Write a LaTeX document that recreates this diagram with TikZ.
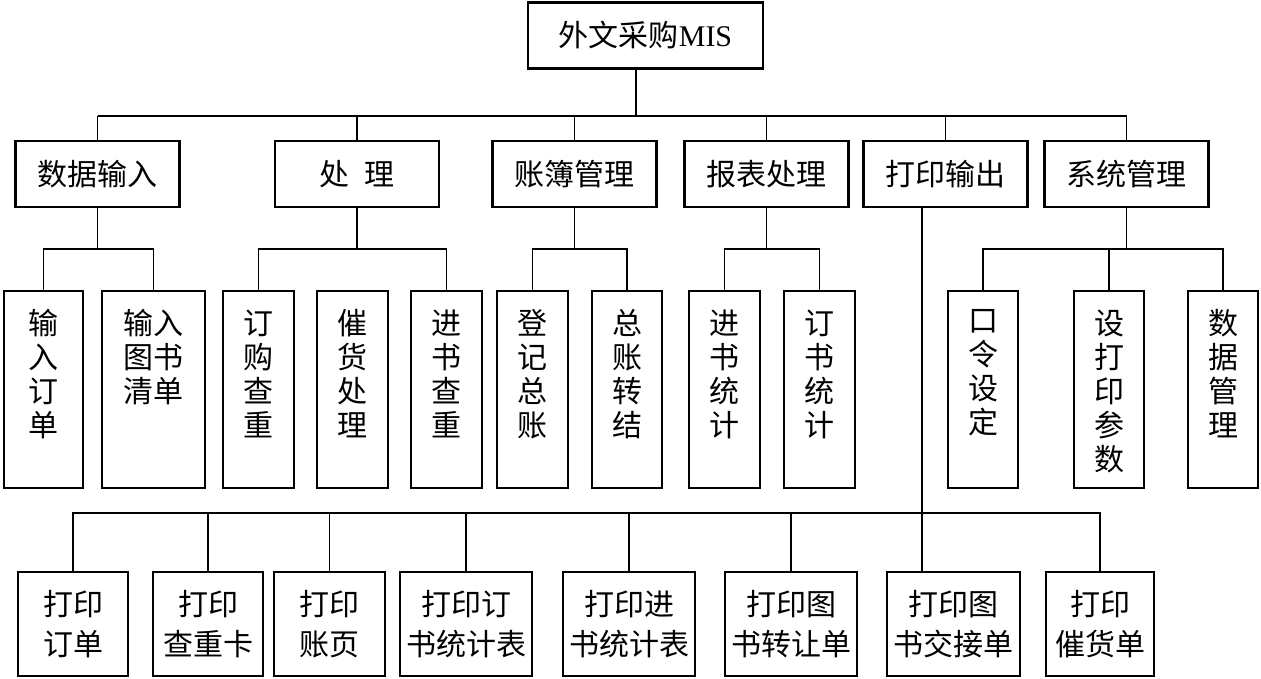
\documentclass[tikz,border=0pt]{standalone}
\usepackage{fontspec}
\setmainfont{Liberation Serif}
\newfontfamily\cjk{Noto Sans CJK SC}
\newcommand\vtx[1]{\parbox[c][160pt][t]{64pt}{\centering #1}}
\begin{document}
\begin{tikzpicture}[x=1pt,y=-1pt,
  box/.style={draw, line width=2.8pt, inner sep=0pt, align=center,
    font=\cjk\fontsize{30}{34}\selectfont},
  lvltwo/.style={box, minimum width=164pt, minimum height=66pt},
  tall/.style={box, minimum height=197pt},
  low/.style={box, minimum height=104pt, font=\cjk\fontsize{30}{40}\selectfont},
  conn/.style={line width=1.6pt}]
\fill[white] (0,0) rectangle (1261,679);
\useasboundingbox (0,0) rectangle (1261,679);

% level 1
\node[box, minimum width=235pt, minimum height=66pt] (top) at (645.5,35.5) {外文采购{\rmfamily MIS}};

% level 2
\node[lvltwo] (d1) at (97.5,174) {数据输入};
\node[lvltwo] (d2) at (357,174) {处\hspace{15pt}理};
\node[lvltwo] (d3) at (574.5,174) {账簿管理};
\node[lvltwo] (d4) at (766.5,174) {报表处理};
\node[lvltwo] (d5) at (945.5,174) {打印输出};
\node[lvltwo] (d6) at (1126.5,174) {系统管理};

% level 3
\node[tall, minimum width=79pt] (a1) at (43.5,389.5) {\vtx{输\\入\\订\\单}};
\node[tall, minimum width=103pt] (a2) at (153.5,389.5) {\vtx{输入\\图书\\清单}};
\node[tall, minimum width=71pt] (a3) at (258.5,389.5) {\vtx{订\\购\\查\\重}};
\node[tall, minimum width=71pt] (a4) at (352.5,389.5) {\vtx{催\\货\\处\\理}};
\node[tall, minimum width=71pt] (a5) at (446.5,389.5) {\vtx{进\\书\\查\\重}};
\node[tall, minimum width=71pt] (a6) at (532.5,389.5) {\vtx{登\\记\\总\\账}};
\node[tall, minimum width=70pt] (a7) at (627,389.5) {\vtx{总\\账\\转\\结}};
\node[tall, minimum width=71pt] (a8) at (724.5,389.5) {\vtx{进\\书\\统\\计}};
\node[tall, minimum width=71pt] (a9) at (819.5,389.5) {\vtx{订\\书\\统\\计}};
\node[tall, minimum width=70pt] (a10) at (983,389.5) {\vtx{口\\令\\设\\定}};
\node[tall, minimum width=70pt] (a11) at (1109,389.5) {\vtx{设\\打\\印\\参\\数}};
\node[tall, minimum width=70pt] (a12) at (1223,389.5) {\vtx{数\\据\\管\\理}};

% level 4
\node[low, minimum width=110pt] (b1) at (73,624) {打印\\订单};
\node[low, minimum width=110pt] (b2) at (208,624) {打印\\查重卡};
\node[low, minimum width=111pt] (b3) at (329.5,624) {打印\\账页};
\node[low, minimum width=132pt] (b4) at (466,624) {打印订\\书统计表};
\node[low, minimum width=132pt] (b5) at (629,624) {打印进\\书统计表};
\node[low, minimum width=132pt] (b6) at (791,624) {打印图\\书转让单};
\node[low, minimum width=133pt] (b7) at (953.5,624) {打印图\\书交接单};
\node[low, minimum width=108pt] (b8) at (1100,624) {打印\\催货单};

% junction coordinates
\coordinate (m) at (636,116);
\coordinate (s) at (0,249);
\coordinate (p) at (922,513);

% level 1 -> level 2
\draw[conn] (top.south -| m) -- (m);
\draw[conn] (d1.north |- m) -- (d6.north |- m);
\foreach \n in {d1,d2,d3,d4,d5,d6}
  \draw[conn] (\n.north) -- (\n.north |- m);

% 数据输入
\draw[conn] (d1.south) -- (d1.south |- s);
\draw[conn] (a1.north) |- (a2.north |- s) -- (a2.north);
% 处理
\draw[conn] (d2.south) -- (d2.south |- s);
\draw[conn] (a3.north) |- (a5.north |- s) -- (a5.north);
% 账簿管理
\draw[conn] (d3.south) -- (d3.south |- s);
\draw[conn] (a6.north) |- (a7.north |- s) -- (a7.north);
% 报表处理
\draw[conn] (d4.south) -- (d4.south |- s);
\draw[conn] (a8.north) |- (a9.north |- s) -- (a9.north);
% 系统管理
\draw[conn] (d6.south) -- (d6.south |- s);
\draw[conn] (a10.north) |- (a12.north |- s) -- (a12.north);
\draw[conn] (a11.north) -- (a11.north |- s);

% 打印输出
\draw[conn] (d5.south -| p) -- (b7.north -| p);
\draw[conn] (b1.north) |- (b8.north |- p) -- (b8.north);
\foreach \n in {b2,b3,b4,b5,b6}
  \draw[conn] (\n.north) -- (\n.north |- p);
\end{tikzpicture}
\end{document}
